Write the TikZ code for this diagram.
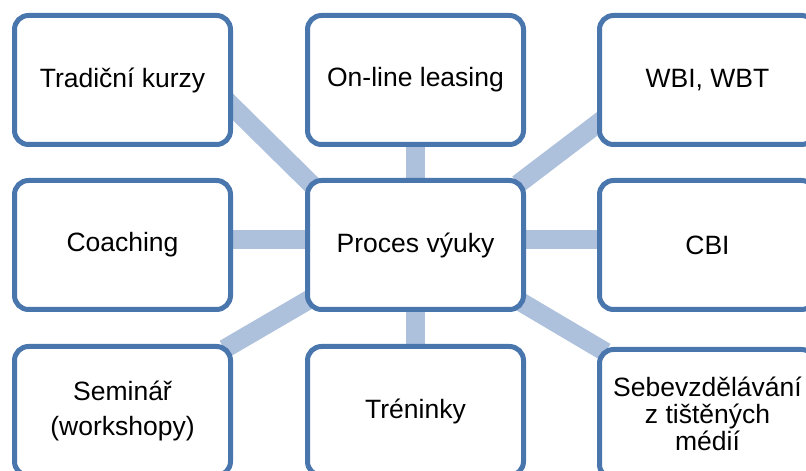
\documentclass[tikz,border=0pt]{standalone}
\usepackage{fontspec}
\setmainfont{Liberation Sans}
\usepackage{tikz}
\usetikzlibrary{backgrounds}
\definecolor{boxblue}{HTML}{4A76AE}
\definecolor{linkblue}{HTML}{ADC0DC}

\begin{document}
\begin{tikzpicture}[x=1pt,y=1pt,node distance=293pt]
  \tikzstyle{box}=[draw=boxblue,line width=5pt,fill=white,rounded corners=14pt,
                   minimum width=216pt,minimum height=129pt,inner sep=0pt,
                   align=center,font=\fontsize{26.5}{35}\selectfont]
  \tikzstyle{link}=[draw=linkblue,line width=19pt,shorten <=-10pt,shorten >=-10pt]

  \useasboundingbox (0,0) rectangle (806,471);
  \clip (0,0) rectangle (806,471);

  \node[box] (proc)    at (415.5,226)                          {Proces výuky};
  \node[box] (online)  [above of=proc,node distance=165pt]     {On-line leasing};
  \node[box] (trening) [below of=proc,node distance=166pt]     {Tréninky};
  \node[box] (coach)   [left of=proc]                          {Coaching};
  \node[box] (cbi)     [right of=proc,node distance=292pt]     {CBI};
  \node[box] (trad)    [above of=coach,node distance=165pt]    {Tradiční kurzy};
  \node[box] (wbi)     [above of=cbi,node distance=165pt]      {WBI, WBT};
  \node[box] (seminar) [below of=coach,node distance=166pt]    {Seminář\\(workshopy)};
  \node[box,font=\fontsize{26.5}{27}\selectfont] (sebe) [below of=cbi,node distance=169pt]
                                                               {Sebevzdělávání\\z tištěných\\médií};

  \begin{scope}[on background layer]
  \path (online) edge[link] (proc)
        (proc) edge[link] (trening)
        ([yshift=5pt]coach.east) edge[link] ([yshift=5pt]proc.west)
        ([yshift=5pt]proc.east) edge[link] ([yshift=5pt]cbi.west)
        ([yshift=-27pt]trad.east) edge[link] (proc.north west)
        (proc.north east) edge[link] ([yshift=-44pt]wbi.west)
        (seminar.north east) edge[link] ([yshift=-57pt]proc.west)
        ([yshift=-60pt]proc.east) edge[link] (sebe.north west);
  \end{scope}
\end{tikzpicture}
\end{document}
